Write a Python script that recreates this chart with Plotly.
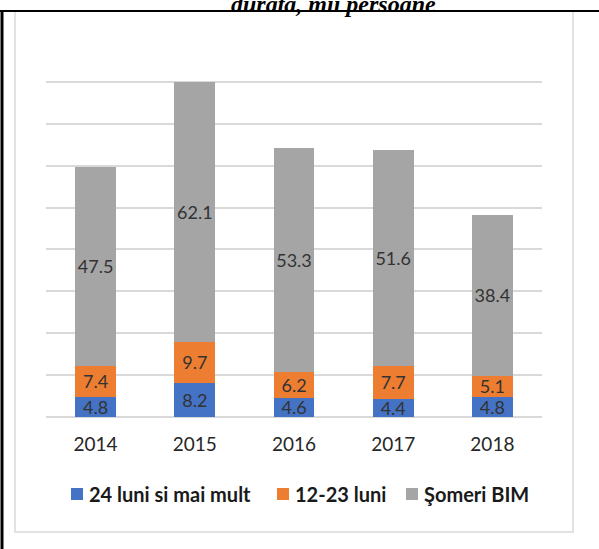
import plotly.graph_objects as go

years = ["2014", "2015", "2016", "2017", "2018"]
long_24 = [4.8, 8.2, 4.6, 4.4, 4.8]
mid_12_23 = [7.4, 9.7, 6.2, 7.7, 5.1]
bim = [47.5, 62.1, 53.3, 51.6, 38.4]

series_names = ["24 luni si mai mult", "12-23 luni", "Şomeri BIM"]
series_values = [long_24, mid_12_23, bim]
series_colors = ["#4472C4", "#ED7D31", "#A5A5A5"]

W, H = 599, 549
L, R, T, B = 46, 542, 40, 417  # plot area pixels

def px(x):
    return (x - L) / (R - L)

def py(y):
    return (B - y) / (B - T)

fig = go.Figure()
for name, vals, col in zip(series_names, series_values, series_colors):
    fig.add_trace(go.Bar(
        x=years, y=vals, name=name,
        marker=dict(color=col, line=dict(width=0)),
        text=[f"{v:.1f}" for v in vals],
        textposition="inside", insidetextanchor="middle", textangle=0,
        constraintext="none",
        textfont=dict(family="Lato", size=18, color="#333333"),
        cliponaxis=False, showlegend=False,
    ))

shapes = [
    dict(type="rect", xref="paper", yref="paper", x0=px(15), x1=px(573), y0=py(532), y1=py(11),
         line=dict(color="#d9d9d9", width=1.5), layer="below"),
    dict(type="line", xref="paper", yref="paper", x0=px(0), x1=px(599), y0=py(11), y1=py(11),
         line=dict(color="black", width=2)),
    dict(type="line", xref="paper", yref="paper", x0=px(2), x1=px(2), y0=py(10), y1=py(549),
         line=dict(color="black", width=3)),
]

annotations = [dict(text="<b><i>durata, mii persoane</i></b>", xref="paper", yref="paper",
                    x=px(333), y=py(19), xanchor="center", yanchor="bottom", showarrow=False,
                    font=dict(family="Liberation Serif", size=24, color="black"))]

# manual legend
legend_x = [71, 277, 406]
legend_y = 494
for name, col, lx in zip(series_names, series_colors, legend_x):
    shapes.append(dict(type="rect", xref="paper", yref="paper",
                       x0=px(lx), x1=px(lx + 12), y0=py(legend_y + 6), y1=py(legend_y - 6),
                       fillcolor=col, line=dict(width=0)))
    annotations.append(dict(text=f"<b>{name}</b>", xref="paper", yref="paper",
                            x=px(lx + 16), y=py(legend_y), xanchor="left", yanchor="middle",
                            showarrow=False,
                            font=dict(family="Lato", size=20, color="#1a1a1a")))

fig.update_layout(
    width=W, height=H,
    margin=dict(l=L, r=W - R, t=T, b=H - B),
    paper_bgcolor="white", plot_bgcolor="white",
    barmode="stack", bargap=0.59,
    showlegend=False,
    xaxis=dict(tickfont=dict(family="Lato", size=19, color="#262626"), showline=False,
               ticks="", ticklen=0, showgrid=False, ticklabelstandoff=14),
    yaxis=dict(range=[0, 90], dtick=10, showticklabels=False, showgrid=True,
               gridcolor="#d9d9d9", gridwidth=1.5, zeroline=True, zerolinecolor="#d9d9d9",
               zerolinewidth=1.5),
    shapes=shapes,
    annotations=annotations,
)

fig.write_html("out.html", config={"displayModeBar": False},
               post_script="document.body.style.margin='0';document.body.style.overflow='hidden';")
